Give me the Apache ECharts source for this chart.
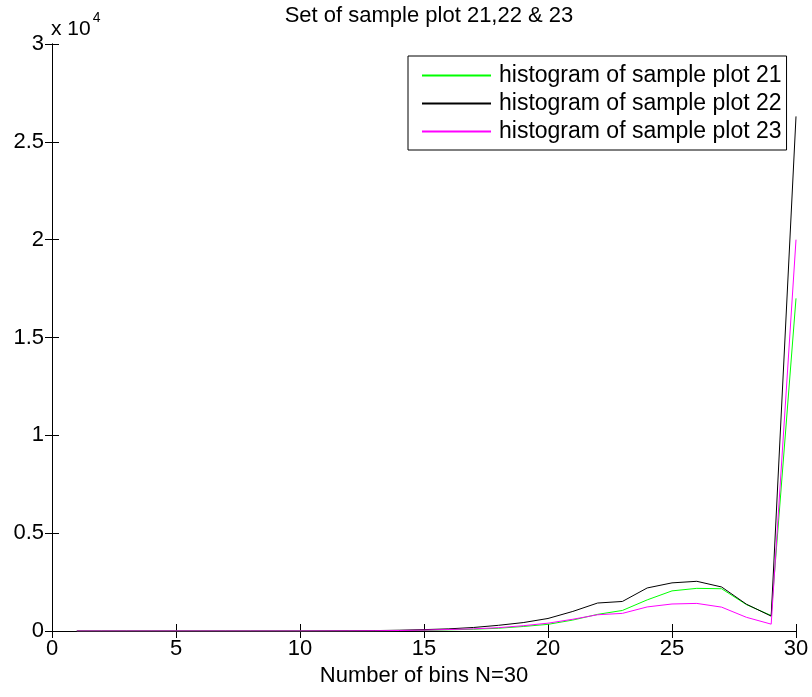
<!DOCTYPE html>
<html>
<head>
<meta charset="utf-8">
<script src="https://cdn.jsdelivr.net/npm/echarts@6/dist/echarts.min.js"></script>
<style>
  html, body { margin: 0; padding: 0; background: #fff; }
  #chart { width: 812px; height: 697px; }
</style>
</head>
<body>
<div id="chart"></div>
<script>
// bins 1..30
var bins = [1,2,3,4,5,6,7,8,9,10,11,12,13,14,15,16,17,18,19,20,21,22,23,24,25,26,27,28,29,30];
var plot21 = [0,0,0,0,0,0,0,0,0,0,2,5,10,20,35,60,90,140,230,340,560,850,1050,1590,2050,2180,2160,1350,790,17000];
var plot22 = [0,0,0,0,0,0,0,0,0,0,5,10,20,40,70,110,180,290,430,640,1000,1430,1510,2200,2460,2540,2250,1370,760,26300];
var plot23 = [0,0,0,0,0,0,0,0,0,0,3,6,12,25,45,75,110,170,270,400,600,830,900,1230,1380,1410,1220,700,350,20000];
var seriesNames = ['histogram of sample plot 21', 'histogram of sample plot 22', 'histogram of sample plot 23'];
var seriesColors = ['#00ff00', '#000000', '#ff00ff'];
var xTicks = [0, 5, 10, 15, 20, 25, 30];

var FONT = "'Liberation Sans', Arial, Helvetica, sans-serif";

function pairs(vals) {
    return bins.map(function (b, i) { return [b, vals[i]]; });
}

var chart = echarts.init(document.getElementById('chart'));

var tickStyle = { show: true, inside: true, length: 7, lineStyle: { color: '#000', width: 1 } };
var lineStyleAxis = { show: true, lineStyle: { color: '#000', width: 1 } };

// legend entries with their own solid line icon
var legendData = seriesNames.map(function (n, i) {
    return { name: n, icon: 'rect', itemStyle: { color: seriesColors[i], opacity: 1 } };
});

var option = {
    backgroundColor: '#fff',
    animation: false,
    title: {
        text: 'Set of sample plot 21,22 & 23',
        left: 424,
        textAlign: 'center',
        top: 0,
        textStyle: { fontFamily: FONT, fontSize: 22, fontWeight: 'normal', color: '#000' }
    },
    grid: { left: 52, right: 16, top: 44, bottom: 66 },
    legend: {
        orient: 'vertical',
        left: 408,
        top: 56,
        padding: [8, 5, 7, 14],
        itemWidth: 69,
        itemHeight: 2,
        itemGap: 5,
        borderColor: '#000',
        borderWidth: 1,
        borderRadius: 0,
        backgroundColor: '#fff',
        textStyle: { fontFamily: FONT, fontSize: 23, color: '#000', lineHeight: 22, padding: [0, 0, 0, 3] },
        data: legendData
    },
    xAxis: [{
        type: 'value',
        min: 0, max: 30, interval: 5,
        axisLine: lineStyleAxis,
        axisTick: tickStyle,
        splitLine: { show: false },
        axisLabel: { fontFamily: FONT, fontSize: 22, color: '#000', margin: 7,
            formatter: function (v) { return xTicks.indexOf(v) >= 0 ? String(v) : ''; } },
        name: 'Number of bins N=30',
        nameLocation: 'middle',
        nameGap: 34,
        nameTextStyle: { fontFamily: FONT, fontSize: 22, color: '#000' }
    }, {
        type: 'value',
        position: 'top',
        min: 0, max: 30, interval: 5,
        axisLine: lineStyleAxis,
        axisTick: tickStyle,
        axisLabel: { show: false },
        splitLine: { show: false }
    }],
    yAxis: [{
        type: 'value',
        min: 0, max: 30000, interval: 5000,
        axisLine: lineStyleAxis,
        axisTick: tickStyle,
        splitLine: { show: false },
        axisLabel: { fontFamily: FONT, fontSize: 22, color: '#000', margin: 8,
            formatter: function (v) { return String(v / 10000); } }
    }, {
        type: 'value',
        position: 'right',
        min: 0, max: 30000, interval: 5000,
        axisLine: lineStyleAxis,
        axisTick: tickStyle,
        axisLabel: { show: false },
        splitLine: { show: false }
    }],
    graphic: [{
        type: 'text',
        left: 51,
        top: 11,
        style: {
            text: '{a|x 10}{b|4}',
            rich: {
                a: { fontFamily: FONT, fontSize: 21, fill: '#000', verticalAlign: 'bottom', padding: [8, 0, 0, 0] },
                b: { fontFamily: FONT, fontSize: 14, fill: '#000', verticalAlign: 'top', padding: [0, 0, 10, 2] }
            }
        }
    }],
    series: seriesNames.map(function (n, i) {
        return {
            name: n, type: 'line', symbol: 'none',
            data: pairs([plot21, plot22, plot23][i]),
            itemStyle: { color: seriesColors[i] },
            lineStyle: { color: seriesColors[i], width: 1 }
        };
    })
};

chart.setOption(option);
</script>
</body>
</html>
